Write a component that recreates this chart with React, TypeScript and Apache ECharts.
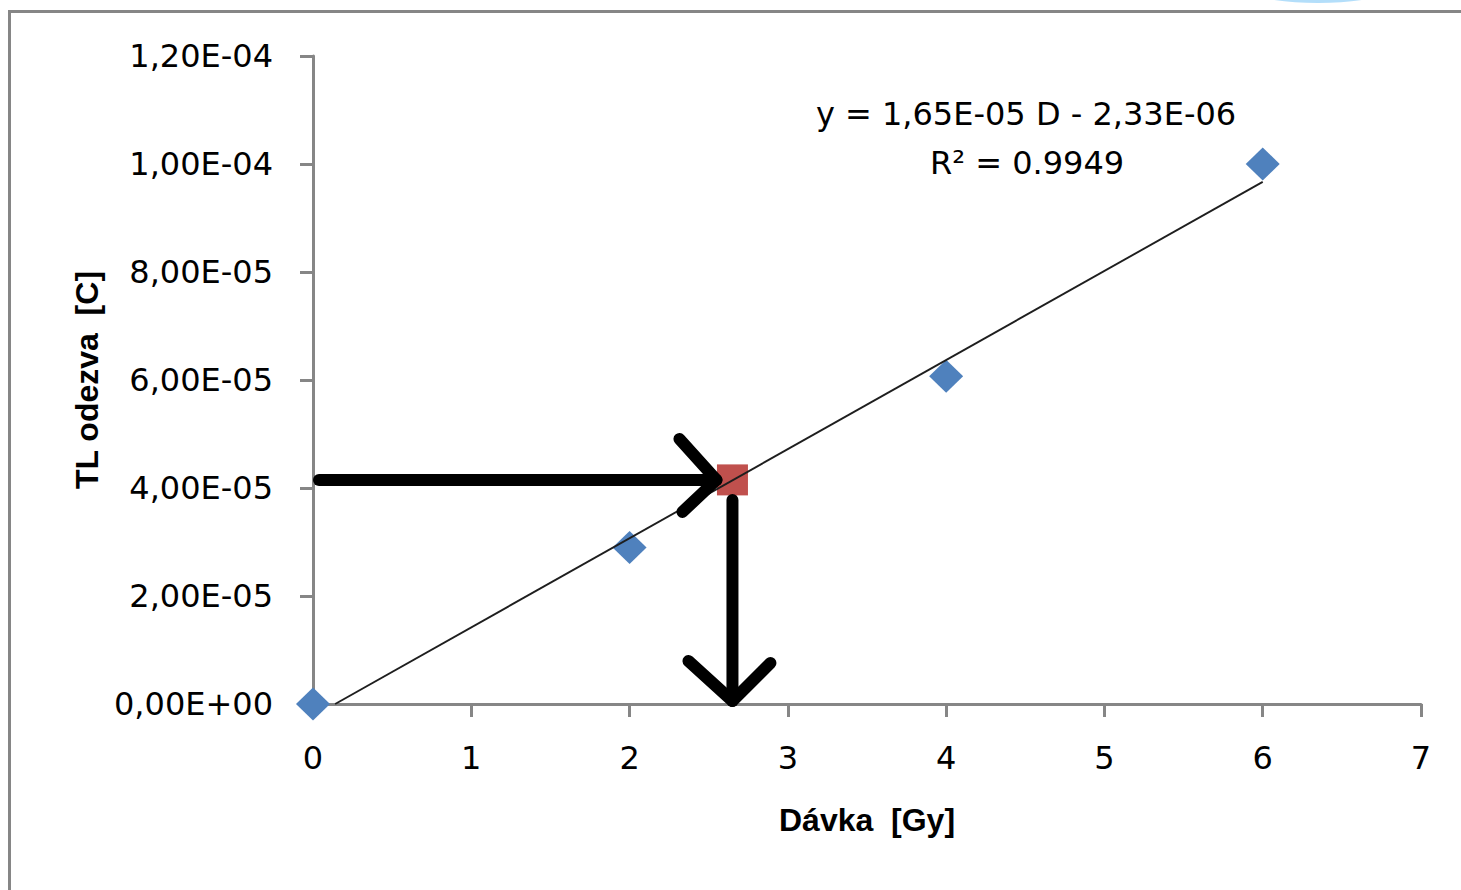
import React, { useEffect, useRef } from "react";
import * as echarts from "echarts";

// Calibration measurements
const doses = [0, 2, 4, 6];
const responses = [0, 2.9e-5, 6.07e-5, 1.0e-4];

// Unknown sample
const unknownDose = [2.65];
const unknownResponse = [4.15e-5];

// Linear trendline end points (y = 1,65E-05 D - 2,33E-06)
const trendDoses = [0.14, 6];
const trendResponses = [0, 9.67e-5];

const xMin = 0;
const xMax = 7;
const xInterval = 1;
const yMin = 0;
const yMax = 1.2e-4;
const yInterval = 2e-5;

const xTitle = "Dávka  [Gy]";
const yTitle = "TL odezva  [C]";
const equationText = "y = 1,65E-05 D - 2,33E-06";
const r2Text = "R² = 0.9949";

function fmtSci(v: number): string {
  const [m, e] = v.toExponential(2).split("e");
  const exp = parseInt(e, 10);
  const sign = exp < 0 ? "-" : "+";
  return m.replace(".", ",") + "E" + sign + String(Math.abs(exp)).padStart(2, "0");
}

const AXIS_GRAY = "#868686";
const LABEL_FONT = "DejaVu Sans";
const TITLE_FONT = "Liberation Sans";

export default function App() {
  const ref = useRef<HTMLDivElement>(null);

  useEffect(() => {
    if (!ref.current) return;
    const chart = echarts.init(ref.current, undefined, { renderer: "svg" });

    const arrowStyle = {
      stroke: "#000",
      fill: null,
      lineWidth: 12,
      lineCap: "round",
      lineJoin: "round",
    };

    const option: any = {
      animation: false,
      backgroundColor: "#ffffff",
      grid: { left: 313, right: 40, top: 56, bottom: 186 },
      xAxis: {
        type: "value",
        min: xMin,
        max: xMax,
        interval: xInterval,
        splitLine: { show: false },
        axisLine: { show: true, onZero: false, lineStyle: { color: AXIS_GRAY, width: 3 } },
        axisTick: { show: true, length: 13, lineStyle: { color: AXIS_GRAY, width: 3 } },
        axisLabel: {
          fontSize: 32,
          fontFamily: LABEL_FONT,
          color: "#000",
          margin: 38,
        },
        name: xTitle,
        nameLocation: "middle",
        nameGap: 100,
        nameTextStyle: {
          fontSize: 32,
          fontWeight: "bold",
          fontFamily: TITLE_FONT,
          color: "#000",
        },
      },
      yAxis: {
        type: "value",
        min: yMin,
        max: yMax,
        interval: yInterval,
        splitLine: { show: false },
        axisLine: { show: true, onZero: false, lineStyle: { color: AXIS_GRAY, width: 3 } },
        axisTick: { show: true, length: 13, lineStyle: { color: AXIS_GRAY, width: 3 } },
        axisLabel: {
          fontSize: 32,
          fontFamily: LABEL_FONT,
          color: "#000",
          margin: 40,
          formatter: (v: number) => fmtSci(v),
        },
        name: yTitle,
        nameLocation: "middle",
        nameGap: 210,
        nameTextStyle: {
          fontSize: 32,
          fontWeight: "bold",
          fontFamily: TITLE_FONT,
          color: "#000",
        },
      },
      graphic: [
        {
          type: "polyline",
          shape: { points: [[9.5, 890], [9.5, 11.5], [1461, 11.5]] },
          style: { stroke: AXIS_GRAY, lineWidth: 3, fill: null },
          silent: true,
        },
        {
          type: "ellipse",
          shape: { cx: 1318, cy: -22, rx: 92, ry: 25 },
          style: { fill: "#b3defa", stroke: null },
          silent: true,
        },
        {
          type: "text",
          x: 1026,
          y: 114,
          style: {
            text: equationText,
            fontSize: 32,
            fontFamily: LABEL_FONT,
            fill: "#000",
            align: "center",
            verticalAlign: "middle",
          },
          silent: true,
        },
        {
          type: "text",
          x: 1027,
          y: 163,
          style: {
            text: r2Text,
            fontSize: 32,
            fontFamily: LABEL_FONT,
            fill: "#000",
            align: "center",
            verticalAlign: "middle",
          },
          silent: true,
        },
      ],
      series: [
        {
          name: "Kalibrace",
          type: "scatter",
          symbol: "diamond",
          symbolSize: [34, 33],
          itemStyle: { color: "#4F81BD", opacity: 1 },
          data: doses.map((d, i) => [d, responses[i]]),
          z: 2,
          silent: true,
        },
        {
          name: "Neznámý vzorek",
          type: "scatter",
          symbol: "rect",
          symbolSize: 31,
          itemStyle: { color: "#C0504D", opacity: 1 },
          data: unknownDose.map((d, i) => [d, unknownResponse[i]]),
          z: 2,
          silent: true,
        },
        {
          name: "Lineární trend",
          type: "line",
          symbol: "none",
          lineStyle: { color: "#1e1e1e", width: 1.9 },
          data: trendDoses.map((d, i) => [d, trendResponses[i]]),
          z: 3,
          silent: true,
        },
        {
          name: "Odečet",
          type: "custom",
          z: 4,
          silent: true,
          data: unknownDose.map((d, i) => [d, unknownResponse[i]]),
          renderItem: (_params: any, api: any) => {
            const x = api.value(0);
            const y = api.value(1);
            const p = api.coord([x, y]);
            const o = api.coord([0, y]);
            const b = api.coord([x, 0]);
            const hj = [p[0] - 16, p[1]];
            const vj = [p[0], b[1] - 3];
            return {
              type: "group",
              children: [
                {
                  type: "line",
                  shape: { x1: o[0] + 6, y1: p[1], x2: hj[0], y2: hj[1] },
                  style: arrowStyle,
                },
                {
                  type: "polyline",
                  shape: {
                    points: [
                      [hj[0] - 37, hj[1] - 41],
                      hj,
                      [hj[0] - 34, hj[1] + 32],
                    ],
                  },
                  style: arrowStyle,
                },
                {
                  type: "line",
                  shape: { x1: p[0], y1: p[1] + 20, x2: vj[0], y2: vj[1] },
                  style: arrowStyle,
                },
                {
                  type: "polyline",
                  shape: {
                    points: [
                      [vj[0] - 44, vj[1] - 40],
                      vj,
                      [vj[0] + 38, vj[1] - 38],
                    ],
                  },
                  style: arrowStyle,
                },
              ],
            };
          },
        },
      ],
    };

    chart.setOption(option);
    return () => chart.dispose();
  }, []);

  return (
    <div
      ref={ref}
      style={{ position: "absolute", left: 0, top: 0, width: 1461, height: 890 }}
    />
  );
}
